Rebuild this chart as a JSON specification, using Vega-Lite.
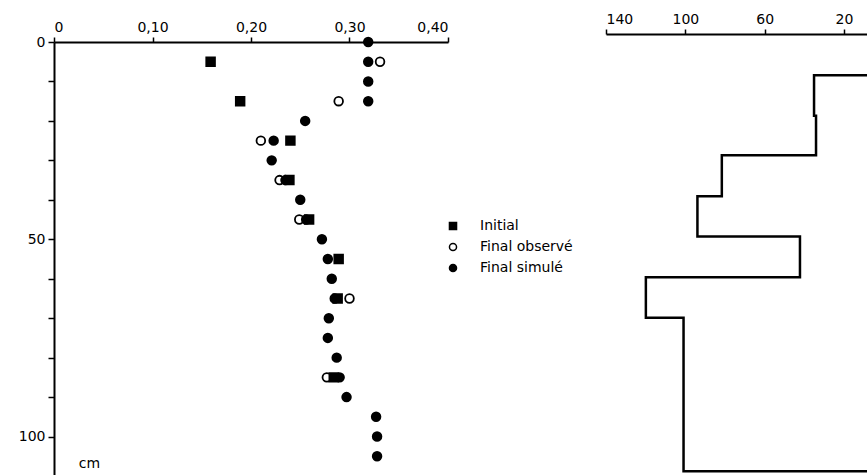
{
  "$schema": "https://vega.github.io/schema/vega-lite/v6.json",
  "padding": {"left": 18, "top": 12, "right": 0, "bottom": 0},
  "background": "white",
  "spacing": 156,
  "config": {
    "view": {"stroke": null},
    "font": "DejaVu Sans",
    "axis": {
      "domainColor": "black",
      "domainWidth": 2,
      "tickColor": "black",
      "tickWidth": 1.5,
      "labelColor": "black",
      "labelFontSize": 14,
      "grid": false
    }
  },
  "hconcat": [
    {
      "width": 394,
      "height": 434,
      "data": {
        "values": [
          {"profondeur": 5, "teneur": 0.331, "serie": "Final observé"},
          {"profondeur": 15, "teneur": 0.289, "serie": "Final observé"},
          {"profondeur": 25, "teneur": 0.210, "serie": "Final observé"},
          {"profondeur": 35, "teneur": 0.229, "serie": "Final observé"},
          {"profondeur": 45, "teneur": 0.249, "serie": "Final observé"},
          {"profondeur": 65, "teneur": 0.300, "serie": "Final observé"},
          {"profondeur": 85, "teneur": 0.277, "serie": "Final observé"},
          {"profondeur": 5, "teneur": 0.159, "serie": "Initial"},
          {"profondeur": 15, "teneur": 0.189, "serie": "Initial"},
          {"profondeur": 25, "teneur": 0.240, "serie": "Initial"},
          {"profondeur": 35, "teneur": 0.239, "serie": "Initial"},
          {"profondeur": 45, "teneur": 0.259, "serie": "Initial"},
          {"profondeur": 55, "teneur": 0.289, "serie": "Initial"},
          {"profondeur": 65, "teneur": 0.288, "serie": "Initial"},
          {"profondeur": 85, "teneur": 0.284, "serie": "Initial"},
          {"profondeur": 0, "teneur": 0.319, "serie": "Final simulé"},
          {"profondeur": 5, "teneur": 0.319, "serie": "Final simulé"},
          {"profondeur": 10, "teneur": 0.319, "serie": "Final simulé"},
          {"profondeur": 15, "teneur": 0.319, "serie": "Final simulé"},
          {"profondeur": 20, "teneur": 0.255, "serie": "Final simulé"},
          {"profondeur": 25, "teneur": 0.223, "serie": "Final simulé"},
          {"profondeur": 30, "teneur": 0.221, "serie": "Final simulé"},
          {"profondeur": 35, "teneur": 0.235, "serie": "Final simulé"},
          {"profondeur": 40, "teneur": 0.250, "serie": "Final simulé"},
          {"profondeur": 45, "teneur": 0.256, "serie": "Final simulé"},
          {"profondeur": 50, "teneur": 0.272, "serie": "Final simulé"},
          {"profondeur": 55, "teneur": 0.278, "serie": "Final simulé"},
          {"profondeur": 60, "teneur": 0.282, "serie": "Final simulé"},
          {"profondeur": 65, "teneur": 0.285, "serie": "Final simulé"},
          {"profondeur": 70, "teneur": 0.279, "serie": "Final simulé"},
          {"profondeur": 75, "teneur": 0.278, "serie": "Final simulé"},
          {"profondeur": 80, "teneur": 0.287, "serie": "Final simulé"},
          {"profondeur": 85, "teneur": 0.290, "serie": "Final simulé"},
          {"profondeur": 90, "teneur": 0.297, "serie": "Final simulé"},
          {"profondeur": 95, "teneur": 0.327, "serie": "Final simulé"},
          {"profondeur": 100, "teneur": 0.328, "serie": "Final simulé"},
          {"profondeur": 105, "teneur": 0.328, "serie": "Final simulé"}
        ]
      },
      "mark": {"type": "point", "size": 75, "strokeWidth": 1.8, "opacity": 1},
      "encoding": {
        "x": {
          "field": "teneur",
          "type": "quantitative",
          "scale": {"domain": [0, 0.4], "nice": false, "zero": false},
          "axis": {
            "orient": "top",
            "values": [0, 0.1, 0.2, 0.3, 0.4],
            "labelExpr": "datum.value == 0 ? '0' : replace(format(datum.value, '.2f'), '.', ',')",
            "title": null,
            "tickSize": 5,
            "labelPadding": 3
          }
        },
        "y": {
          "field": "profondeur",
          "type": "quantitative",
          "scale": {"domain": [0, 110], "nice": false, "zero": false, "reverse": true},
          "axis": {
            "values": [0, 10, 20, 30, 40, 50, 60, 70, 80, 90, 100],
            "labelExpr": "datum.value % 50 == 0 ? datum.label : ''",
            "tickSize": 6,
            "labelPadding": 3,
            "title": "cm",
            "titleAngle": 0,
            "titleX": 35,
            "titleY": 421,
            "titleAlign": "center",
            "titleBaseline": "middle",
            "titleFontSize": 14,
            "titleFontWeight": "normal",
            "titleColor": "black"
          }
        },
        "stroke": {"value": "black"},
        "shape": {
          "field": "serie",
          "type": "nominal",
          "scale": {"domain": ["Initial", "Final observé", "Final simulé"], "range": ["square", "circle", "circle"]},
          "legend": {
            "orient": "none",
            "legendX": 392,
            "legendY": 177,
            "title": null,
            "labelFontSize": 14,
            "labelColor": "black",
            "labelOffset": 20,
            "symbolSize": 50,
            "rowPadding": 7,
            "encode": {"symbols": {"update": {"stroke": {"value": "black"}, "strokeWidth": {"value": 1.5}}}}
          }
        },
        "fill": {
          "field": "serie",
          "type": "nominal",
          "scale": {"domain": ["Initial", "Final observé", "Final simulé"], "range": ["black", "white", "black"]},
          "legend": {
            "orient": "none",
            "legendX": 392,
            "legendY": 177,
            "title": null,
            "labelFontSize": 14,
            "labelColor": "black",
            "labelOffset": 20,
            "symbolSize": 50,
            "rowPadding": 7,
            "encode": {"symbols": {"update": {"stroke": {"value": "black"}, "strokeWidth": {"value": 1.5}}}}
          }
        }
      }
    },
    {
      "width": 261,
      "height": 434,
      "data": {
        "values": [
          {"ordre": 1, "profondeur": 8.4, "valeur": 0},
          {"ordre": 2, "profondeur": 8.4, "valeur": 35.1},
          {"ordre": 3, "profondeur": 18.7, "valeur": 35.1},
          {"ordre": 4, "profondeur": 18.7, "valeur": 34.1},
          {"ordre": 5, "profondeur": 28.7, "valeur": 34.1},
          {"ordre": 6, "profondeur": 28.7, "valeur": 81.6},
          {"ordre": 7, "profondeur": 39.1, "valeur": 81.6},
          {"ordre": 8, "profondeur": 39.1, "valeur": 93.9},
          {"ordre": 9, "profondeur": 49.3, "valeur": 93.9},
          {"ordre": 10, "profondeur": 49.3, "valeur": 42.2},
          {"ordre": 11, "profondeur": 59.6, "valeur": 42.2},
          {"ordre": 12, "profondeur": 59.6, "valeur": 119.9},
          {"ordre": 13, "profondeur": 69.9, "valeur": 119.9},
          {"ordre": 14, "profondeur": 69.9, "valeur": 100.9},
          {"ordre": 15, "profondeur": 108.8, "valeur": 100.9},
          {"ordre": 16, "profondeur": 108.8, "valeur": 0}
        ]
      },
      "mark": {"type": "line", "color": "black", "strokeWidth": 2.5, "clip": true},
      "encoding": {
        "x": {
          "field": "valeur",
          "type": "quantitative",
          "scale": {"domain": [140, 8.4], "nice": false, "zero": false},
          "axis": {
            "orient": "top",
            "values": [140, 100, 60, 20],
            "offset": 8,
            "title": null,
            "tickSize": 5,
            "labelPadding": 3
          }
        },
        "y": {
          "field": "profondeur",
          "type": "quantitative",
          "scale": {"domain": [0, 110], "nice": false, "zero": false, "reverse": true},
          "axis": null
        },
        "order": {"field": "ordre", "type": "quantitative"}
      }
    }
  ]
}
